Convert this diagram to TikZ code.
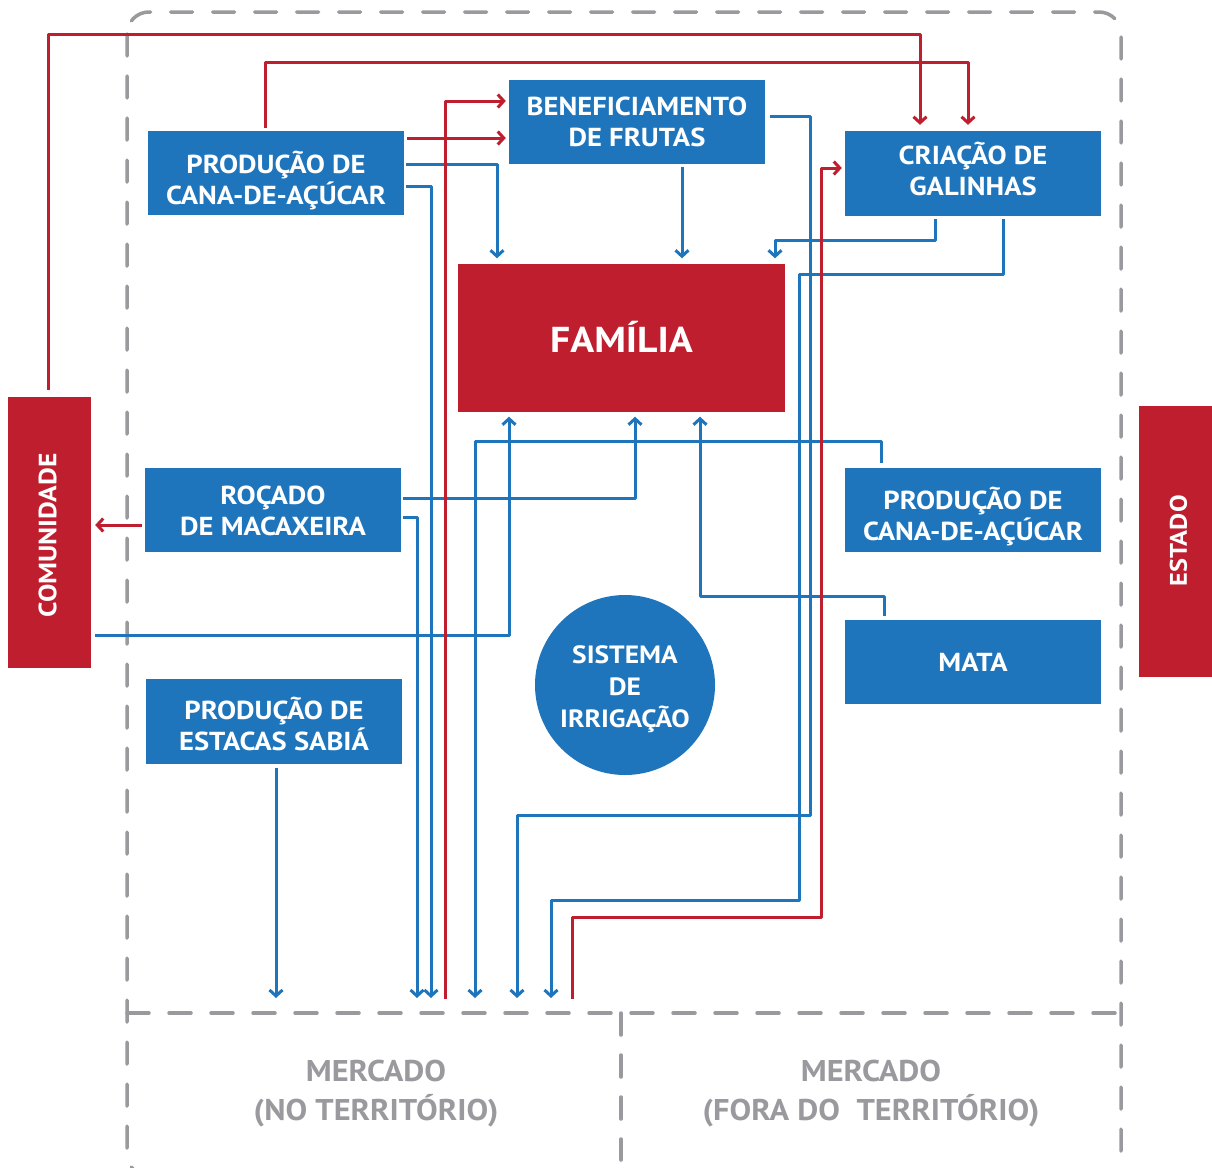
\documentclass[tikz,border=0pt]{standalone}
\usepackage{fontspec}
\setmainfont{PT Sans}
\newfontfamily\widefont[FakeStretch=1.1]{PT Sans}
\newfontfamily\mkfont[FakeStretch=1.08]{PT Sans}
\usetikzlibrary{arrows.meta}
\definecolor{cblue}{RGB}{31,117,188}
\definecolor{cred}{RGB}{190,30,46}
\definecolor{cgray}{RGB}{153,153,158}
\newcommand\mytopst{\rule{0pt}{26pt}}
\newcommand\mybotst{\rule[-9pt]{0pt}{9pt}}
\tikzset{
  box/.style={fill=cblue, minimum width=256pt, minimum height=84pt, inner sep=0pt},
  boxtext/.style={text=white, align=center, inner sep=0pt, font=\fontsize{26}{31}\selectfont\widefont\bfseries},
  redbox/.style={fill=cred, inner sep=0pt},
  bl/.style={draw=cblue, line width=3pt, line join=round},
  rd/.style={draw=cred, line width=3pt, line join=round},
  arr/.style={-{Straight Barb[length=6pt,width=13pt]}},
  border/.style={draw=cgray, line width=3.5pt, dash pattern=on 22pt off 20pt, line cap=round},
  mtext/.style={text=cgray, align=center, font=\fontsize{30}{39}\selectfont\mkfont\bfseries}
}
\begin{document}
\begin{tikzpicture}[x=1pt,y={(0pt,-1pt)}]
\useasboundingbox (0,0) rectangle (1212,1167);
\clip (0,0) rectangle (1212,1167);
% frame
\draw[border, rounded corners=22pt] (127,12) rectangle (1121,1176);
\draw[border] (127,1013) -- (1121,1013);
\draw[border] (621,1013) -- (621,1160);
\node[mtext] (mk1) at (376,1094) {MERCADO\\(NO TERRITÓRIO)};
\node[mtext] (mk2) at (871,1094) {MERCADO\\(FORA DO\ \ TERRITÓRIO)};
% nodes
\node[box] (P1) at (276,173) {};
\node[boxtext] (P1t) at ([yshift=-7pt]P1.center) {\mytopst PRODUÇÃO DE\\CANA-DE-AÇÚCAR\mybotst};
\node[box] (BF) at (637,122) {};
\node[boxtext] (BFt) at (BF.center) {\mytopst BENEFICIAMENTO\\DE FRUTAS\mybotst};
\node[box, minimum height=85pt] (CG) at (973,173.5) {};
\node[boxtext] (CGt) at ([yshift=2.5pt]CG.center) {\mytopst CRIAÇÃO DE\\GALINHAS\mybotst};
\node[redbox, minimum width=327pt, minimum height=148pt] (FAM) at (621.5,337.5) {};
\node[boxtext, font=\fontsize{36}{40}\selectfont\widefont\bfseries] (FAMt) at ([yshift=1pt]FAM.center) {FAMÍLIA};
\node[box] (RM) at (273,510) {};
\node[boxtext] (RMt) at ([yshift=-1pt]RM.center) {\mytopst ROÇADO\\DE MACAXEIRA\mybotst};
\node[box] (P2) at (973,510) {};
\node[boxtext] (P2t) at ([yshift=-6pt]P2.center) {\mytopst PRODUÇÃO DE\\CANA-DE-AÇÚCAR\mybotst};
\node[box] (MATA) at (973,662) {};
\node[boxtext] (MATAt) at (MATA.center) {MATA};
\node[box, minimum height=85pt] (PE) at (274,721.5) {};
\node[boxtext] (PEt) at ([yshift=-4.5pt]PE.center) {\mytopst PRODUÇÃO DE\\ESTACAS SABIÁ\mybotst};
\node[circle, fill=cblue, minimum size=180pt, inner sep=0pt] (IRR) at (625,685) {};
\node[boxtext, font=\fontsize{25}{32}\selectfont\widefont\bfseries] (IRRt) at ([yshift=-2pt]IRR.center) {\rule{0pt}{25pt}SISTEMA\\DE\\IRRIGAÇÃO\rule[-9pt]{0pt}{9pt}};
\node[redbox, minimum width=83pt, minimum height=271pt] (COM) at (49.5,532.5) {};
\node[boxtext, rotate=90, font=\fontsize{25}{30}\selectfont\widefont\bfseries] (COMt) at ([xshift=-2pt,yshift=-3pt]COM.center) {COMUNIDADE};
\node[redbox, minimum width=73pt, minimum height=271pt] (EST) at (1175.5,541) {};
\node[boxtext, rotate=90, font=\fontsize{24}{30}\selectfont\widefont\bfseries] (ESTt) at ([xshift=3pt]EST.center) {ESTADO};
% market end points
\coordinate (m0) at (276,998);
\coordinate (m1) at (417,998);
\coordinate (m2) at (431,998);
\coordinate (m3) at (445,999);
\coordinate (m4) at (475,998);
\coordinate (m5) at (517,998);
\coordinate (m6) at (551,998);
\coordinate (m7) at (572,999);
% blue connectors
\draw[bl,arr,shorten <=2pt,shorten >=5pt] (P1.east |- 0,164) -| (FAM.north -| 497,0);
\draw[bl,arr,shorten <=2pt] (P1.east |- 0,186) -| (m2);
\draw[bl,arr,shorten <=3pt,shorten >=5pt] (BF.south -| 682,0) -- (FAM.north -| 682,0);
\draw[bl,arr,shorten <=5pt] (BF.east |- 0,116) -| (810,815) -| (m5);
\draw[bl,arr,shorten <=3pt,shorten >=5pt] (CG.south -| 935,0) |- (775,240) -- (FAM.north -| 775,0);
\draw[bl,arr,shorten <=3pt] (CG.south -| 1003,0) |- (799,274) |- (551,900) -- (m6);
\draw[bl,arr,shorten <=2pt,shorten >=5pt] (RM.east |- 0,498) -| (FAM.south -| 635,0);
\draw[bl,arr,shorten <=2pt] (RM.east |- 0,517) -| (m1);
\draw[bl,arr,shorten <=4pt,shorten >=5pt] (COM.east |- 0,635) -| (FAM.south -| 509,0);
\draw[bl,arr,shorten <=5pt] (P2.north -| 881,0) |- (475,441) -- (m4);
\draw[bl,arr,shorten <=4pt,shorten >=5pt] (MATA.north -| 884,0) |- (700,596) -- (FAM.south -| 700,0);
\draw[bl,arr,shorten <=4pt] (PE.south -| 276,0) -- (m0);
% red connectors
\draw[rd,arr,shorten <=7pt,shorten >=6pt] (COM.north -| 48,0) |- (920,34) -- (CG.north -| 920,0);
\draw[rd,arr,shorten <=3pt,shorten >=6pt] (P1.north -| 265,0) |- (968,62) -- (CG.north -| 968,0);
\draw[rd,arr,shorten >=3pt] (m3) |- (BF.west |- 0,101);
\draw[rd,arr,shorten <=3pt,shorten >=3pt] (P1.east |- 0,138) -- (BF.west |- 0,138);
\draw[rd,arr,shorten >=3pt] (m7) |- (821,917) |- (CG.west |- 0,168);
\draw[rd,arr,shorten <=3pt,shorten >=4pt] (RM.west |- 0,525) -- (COM.east |- 0,525);
\end{tikzpicture}
\end{document}
